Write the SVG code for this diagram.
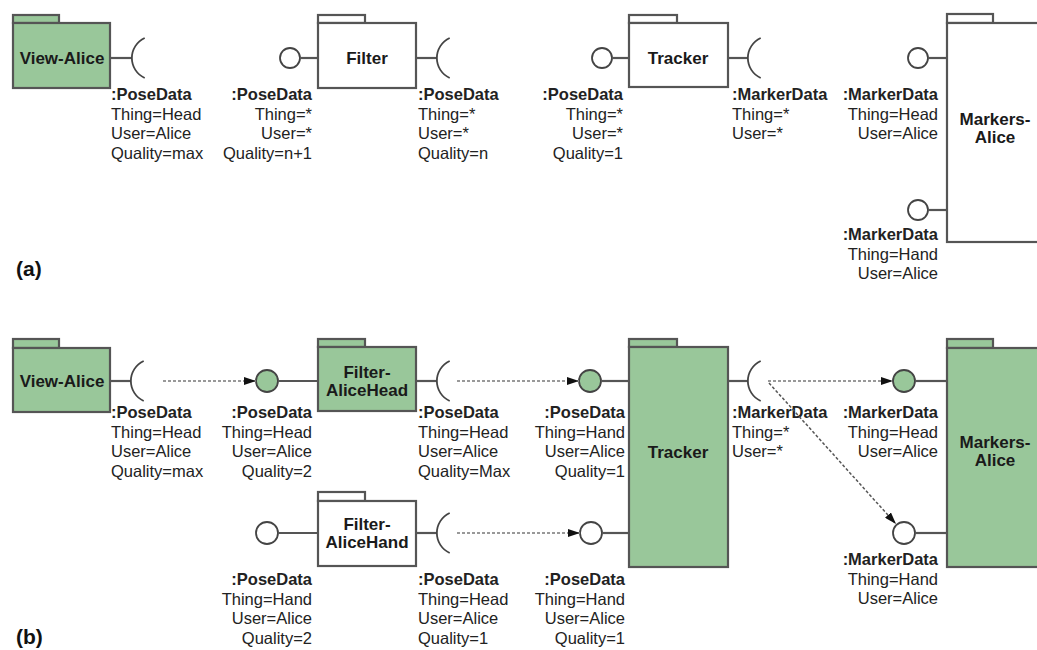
<svg xmlns="http://www.w3.org/2000/svg" width="1037" height="650" viewBox="0 0 1037 650">
<style>
.box{stroke:#555;stroke-width:2.2;fill:#fff}
.g{fill:#99c79a}
.ln{stroke:#555;stroke-width:2.2;fill:none}
.cw{stroke:#444;stroke-width:1.8;fill:#fff}
.cg{stroke:#444;stroke-width:1.8;fill:#99c79a}
.sk{stroke:#444;stroke-width:1.8;fill:none}
.t{font-family:"Liberation Sans",Arial,sans-serif;font-weight:bold;font-size:17px;fill:#1a1a1a;text-anchor:middle}
.l{font-family:"Liberation Sans",Arial,sans-serif;font-size:16.5px;fill:#222}
.l .b{font-weight:bold}
.e{text-anchor:end}
.lab{font-family:"Liberation Sans",Arial,sans-serif;font-weight:bold;font-size:21px;fill:#111}
.dot{stroke:#999;stroke-width:2;stroke-dasharray:3 2;fill:none}
.dotd{stroke:#555;stroke-width:1.5;stroke-dasharray:3 2;fill:none}
</style>
<defs>
<marker id="ah" viewBox="0 0 12 8" refX="12" refY="4" markerWidth="12" markerHeight="8" orient="auto" markerUnits="userSpaceOnUse"><path d="M0,0 L12,4 L0,8 z" fill="#111"/></marker>
</defs>
<rect width="1037" height="650" fill="#fff"/>

<!-- ===== Panel (a) ===== -->
<g id="a-view-alice">
<rect class="box g" x="13" y="15" width="46" height="8"/>
<rect class="box g" x="13" y="23" width="97" height="65"/>
<text class="t" x="62" y="64">View-Alice</text>
<line class="ln" x1="110" y1="58" x2="132" y2="58"/>
<path class="sk" d="M144.7,38 A22 22 0 0 0 144.7,78"/>
<text class="l" x="111" y="100"><tspan class="b">:PoseData</tspan><tspan x="111" dy="19.5">Thing=Head</tspan><tspan x="111" dy="19.5">User=Alice</tspan><tspan x="111" dy="19.5">Quality=max</tspan></text>
</g>

<g id="a-filter">
<circle class="cw" cx="290" cy="58" r="10"/>
<line class="ln" x1="300" y1="58" x2="318" y2="58"/>
<rect class="box" x="318" y="15" width="47" height="8"/>
<rect class="box" x="318" y="23" width="98" height="65"/>
<text class="t" x="367" y="64">Filter</text>
<line class="ln" x1="416" y1="58" x2="437" y2="58"/>
<path class="sk" d="M449.7,38 A22 22 0 0 0 449.7,78"/>
<text class="l e" x="312" y="100"><tspan class="b">:PoseData</tspan><tspan x="312" dy="19.5">Thing=*</tspan><tspan x="312" dy="19.5">User=*</tspan><tspan x="312" dy="19.5">Quality=n+1</tspan></text>
<text class="l" x="418" y="100"><tspan class="b">:PoseData</tspan><tspan x="418" dy="19.5">Thing=*</tspan><tspan x="418" dy="19.5">User=*</tspan><tspan x="418" dy="19.5">Quality=n</tspan></text>
</g>

<g id="a-tracker">
<circle class="cw" cx="602" cy="58" r="10"/>
<line class="ln" x1="612" y1="58" x2="629" y2="58"/>
<rect class="box" x="629" y="15" width="48" height="8"/>
<rect class="box" x="629" y="23" width="99" height="64"/>
<text class="t" x="678" y="64">Tracker</text>
<line class="ln" x1="728" y1="58" x2="748" y2="58"/>
<path class="sk" d="M760.7,38 A22 22 0 0 0 760.7,78"/>
<text class="l e" x="623" y="100"><tspan class="b">:PoseData</tspan><tspan x="623" dy="19.5">Thing=*</tspan><tspan x="623" dy="19.5">User=*</tspan><tspan x="623" dy="19.5">Quality=1</tspan></text>
<text class="l" x="732" y="100"><tspan class="b">:MarkerData</tspan><tspan x="732" dy="19.5">Thing=*</tspan><tspan x="732" dy="19.5">User=*</tspan></text>
</g>

<g id="a-markers-alice">
<rect class="box" x="947" y="14" width="46" height="9"/>
<rect class="box" x="947" y="23" width="110" height="219"/>
<text class="t" x="995" y="125">Markers-<tspan x="995" dy="17.5">Alice</tspan></text>
<circle class="cw" cx="918" cy="58" r="10"/>
<line class="ln" x1="928" y1="58" x2="947" y2="58"/>
<circle class="cw" cx="918" cy="210" r="10"/>
<line class="ln" x1="928" y1="210" x2="947" y2="210"/>
<text class="l e" x="938" y="100"><tspan class="b">:MarkerData</tspan><tspan x="938" dy="19.5">Thing=Head</tspan><tspan x="938" dy="19.5">User=Alice</tspan></text>
<text class="l e" x="938" y="240"><tspan class="b">:MarkerData</tspan><tspan x="938" dy="19.5">Thing=Hand</tspan><tspan x="938" dy="19.5">User=Alice</tspan></text>
</g>

<text class="lab" x="16" y="276">(a)</text>

<!-- ===== Panel (b) ===== -->
<g id="b-view-alice">
<rect class="box g" x="13" y="339" width="46" height="9"/>
<rect class="box g" x="13" y="348" width="97" height="64"/>
<text class="t" x="62" y="387">View-Alice</text>
<line class="ln" x1="110" y1="381" x2="131" y2="381"/>
<path class="sk" d="M143.7,361 A22 22 0 0 0 143.7,401"/>
<text class="l" x="111" y="418"><tspan class="b">:PoseData</tspan><tspan x="111" dy="19.5">Thing=Head</tspan><tspan x="111" dy="19.5">User=Alice</tspan><tspan x="111" dy="19.5">Quality=max</tspan></text>
</g>

<g id="b-filter-alicehead">
<circle class="cg" cx="267" cy="381" r="11"/>
<line class="ln" x1="278" y1="381" x2="318" y2="381"/>
<rect class="box g" x="318" y="339" width="47" height="8"/>
<rect class="box g" x="318" y="347" width="98" height="64"/>
<text class="t" x="367" y="378">Filter-<tspan x="367" dy="18">AliceHead</tspan></text>
<line class="ln" x1="416" y1="381" x2="437" y2="381"/>
<path class="sk" d="M449.7,361 A22 22 0 0 0 449.7,401"/>
<text class="l e" x="312" y="418"><tspan class="b">:PoseData</tspan><tspan x="312" dy="19.5">Thing=Head</tspan><tspan x="312" dy="19.5">User=Alice</tspan><tspan x="312" dy="19.5">Quality=2</tspan></text>
<text class="l" x="418" y="418"><tspan class="b">:PoseData</tspan><tspan x="418" dy="19.5">Thing=Head</tspan><tspan x="418" dy="19.5">User=Alice</tspan><tspan x="418" dy="19.5">Quality=Max</tspan></text>
</g>

<g id="b-filter-alicehand">
<circle class="cw" cx="267" cy="533" r="11"/>
<line class="ln" x1="278" y1="533" x2="318" y2="533"/>
<rect class="box" x="318" y="492" width="47" height="9"/>
<rect class="box" x="318" y="501" width="98" height="65"/>
<text class="t" x="367" y="530">Filter-<tspan x="367" dy="18">AliceHand</tspan></text>
<line class="ln" x1="416" y1="533" x2="437" y2="533"/>
<path class="sk" d="M449.7,513 A22 22 0 0 0 449.7,553"/>
<text class="l e" x="312" y="585"><tspan class="b">:PoseData</tspan><tspan x="312" dy="19.5">Thing=Hand</tspan><tspan x="312" dy="19.5">User=Alice</tspan><tspan x="312" dy="19.5">Quality=2</tspan></text>
<text class="l" x="418" y="585"><tspan class="b">:PoseData</tspan><tspan x="418" dy="19.5">Thing=Head</tspan><tspan x="418" dy="19.5">User=Alice</tspan><tspan x="418" dy="19.5">Quality=1</tspan></text>
</g>

<g id="b-tracker">
<circle class="cg" cx="590" cy="381" r="11"/>
<line class="ln" x1="601" y1="381" x2="629" y2="381"/>
<circle class="cw" cx="591" cy="533" r="11"/>
<line class="ln" x1="602" y1="533" x2="629" y2="533"/>
<rect class="box g" x="629" y="339" width="48" height="8"/>
<rect class="box g" x="629" y="347" width="99" height="220"/>
<text class="t" x="678" y="458">Tracker</text>
<line class="ln" x1="728" y1="381" x2="748" y2="381"/>
<path class="sk" d="M760.7,361 A22 22 0 0 0 760.7,401"/>
<text class="l e" x="625" y="418"><tspan class="b">:PoseData</tspan><tspan x="625" dy="19.5">Thing=Hand</tspan><tspan x="625" dy="19.5">User=Alice</tspan><tspan x="625" dy="19.5">Quality=1</tspan></text>
<text class="l e" x="625" y="585"><tspan class="b">:PoseData</tspan><tspan x="625" dy="19.5">Thing=Hand</tspan><tspan x="625" dy="19.5">User=Alice</tspan><tspan x="625" dy="19.5">Quality=1</tspan></text>
<text class="l" x="732" y="418"><tspan class="b">:MarkerData</tspan><tspan x="732" dy="19.5">Thing=*</tspan><tspan x="732" dy="19.5">User=*</tspan></text>
</g>

<g id="b-markers-alice">
<rect class="box g" x="947" y="339" width="46" height="9"/>
<rect class="box g" x="947" y="348" width="110" height="219"/>
<text class="t" x="995" y="448">Markers-<tspan x="995" dy="17.5">Alice</tspan></text>
<circle class="cg" cx="904" cy="381" r="11"/>
<line class="ln" x1="915" y1="381" x2="947" y2="381"/>
<circle class="cw" cx="904" cy="533" r="11"/>
<line class="ln" x1="915" y1="533" x2="947" y2="533"/>
<text class="l e" x="938" y="418"><tspan class="b">:MarkerData</tspan><tspan x="938" dy="19.5">Thing=Head</tspan><tspan x="938" dy="19.5">User=Alice</tspan></text>
<text class="l e" x="938" y="565"><tspan class="b">:MarkerData</tspan><tspan x="938" dy="19.5">Thing=Hand</tspan><tspan x="938" dy="19.5">User=Alice</tspan></text>
</g>

<g id="connectors">
<line class="dot" x1="163" y1="381" x2="256" y2="381" marker-end="url(#ah)"/>
<line class="dot" x1="457" y1="381" x2="579" y2="381" marker-end="url(#ah)"/>
<line class="dot" x1="457" y1="533" x2="580" y2="533" marker-end="url(#ah)"/>
<line class="dot" x1="768" y1="381" x2="893" y2="381" marker-end="url(#ah)"/>
<line class="dotd" x1="769" y1="383" x2="896" y2="524" marker-end="url(#ah)"/>
</g>

<text class="lab" x="16" y="644">(b)</text>
</svg>
